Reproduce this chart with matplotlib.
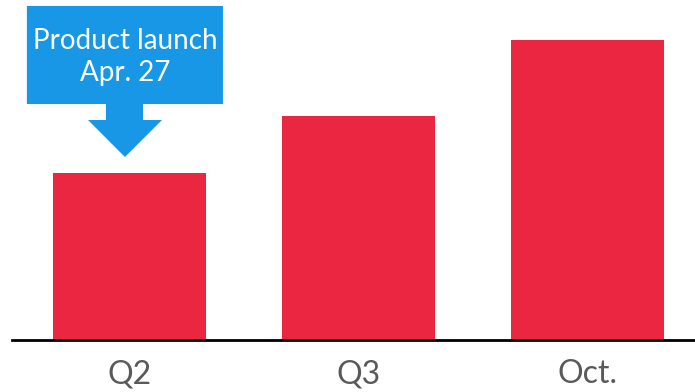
import matplotlib.pyplot as plt
import matplotlib.patches as patches

categories = ["Q2", "Q3", "Oct."]
values = [167, 224, 300]

bar_color = "#EB2640"
callout_color = "#1797E6"

fig = plt.figure(figsize=(6.95, 3.92), dpi=100)
ax = fig.add_axes([12 / 695, 52 / 392, 683 / 695, 340 / 392])

x = range(len(categories))
ax.bar(x, values, width=0.668, color=bar_color, zorder=2)
ax.set_xlim(-0.513, 2.469)
ax.set_ylim(0, 340)

for s in ["top", "right", "left"]:
    ax.spines[s].set_visible(False)
ax.spines["bottom"].set_linewidth(2)
ax.spines["bottom"].set_color("black")
ax.set_yticks([])
ax.set_xticks(list(x))
ax.set_xticklabels(categories, fontsize=23, color="#595959",
                   family="Lato", fontweight="normal")
ax.tick_params(axis="x", length=0, pad=14)

# callout box with arrow pointing at Q2
pts = [(-0.448, 334), (0.408, 334), (0.408, 236), (0.059, 236),
       (0.059, 220), (0.142, 220), (-0.02, 183), (-0.181, 220),
       (-0.103, 220), (-0.103, 236), (-0.448, 236)]
callout = patches.Polygon(pts, closed=True, fc=callout_color, ec="none", zorder=3)
ax.add_patch(callout)
ax.text(-0.02, 283, "Product launch\nApr. 27", ha="center", va="center",
        color="white", fontsize=20, family="Lato", fontweight="normal",
        linespacing=1.3, zorder=4)

fig.savefig("out.png", dpi=100)
